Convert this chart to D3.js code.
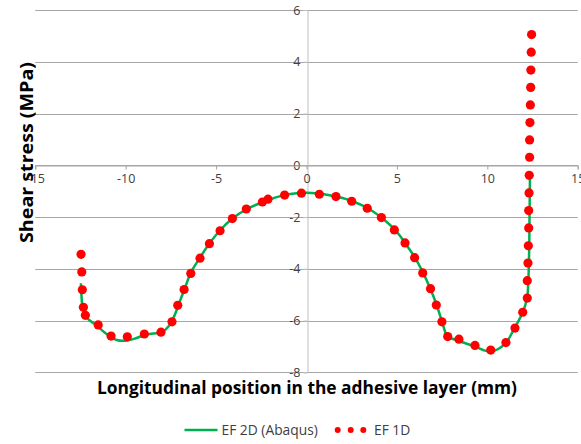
<!DOCTYPE html>
<html>
<head>
<meta charset="utf-8">
<script src="https://cdn.jsdelivr.net/npm/d3@7"></script>
<style>
  body { margin: 0; background: #fff; }
  text { font-family: "Open Sans", "Liberation Sans", sans-serif; }
</style>
</head>
<body>
<div id="chart"></div>
<script>
// EF 2D (Abaqus) - continuous curve
var fe2dX = [-12.48, -12.45, -12.38, -12.2, -11.6, -11.0, -10.5, -10.0, -9.5, -9.0, -8.5, -8.0, -7.6, -7.3, -7.0, -6.7, -6.4, -5.9, -5.4, -4.8, -4.1, -3.3, -2.4, -1.6, -0.8, 0, 0.7, 1.6, 2.5, 3.4, 4.1, 4.9, 5.45, 6.0, 6.45, 6.85, 7.2, 7.5, 7.8, 8.4, 9.3, 10.2, 11.0, 11.5, 11.95, 12.2, 12.27, 12.3, 12.32, 12.33, 12.34, 12.35, 12.36];
var fe2dY = [-4.56, -5.0, -5.5, -5.85, -6.2, -6.55, -6.75, -6.78, -6.7, -6.57, -6.5, -6.45, -6.2, -5.8, -5.25, -4.7, -4.15, -3.58, -3.05, -2.53, -2.06, -1.69, -1.42, -1.22, -1.1, -1.06, -1.1, -1.2, -1.38, -1.66, -2.0, -2.5, -3.0, -3.57, -4.16, -4.77, -5.4, -6.05, -6.6, -6.78, -7.0, -7.2, -6.88, -6.3, -5.7, -5.13, -4.46, -3.8, -3.1, -2.4, -1.75, -1.05, -0.4];

// EF 1D - points
var fe1dX = [-12.47, -12.43, -12.40, -12.34, -12.23, -11.52, -10.81, -9.91, -8.97, -8.05, -7.44, -7.12, -6.77, -6.40, -5.89, -5.37, -4.78, -4.10, -3.33, -2.44, -2.13, -1.21, -0.28, 0.71, 1.63, 2.50, 3.36, 4.14, 4.86, 5.45, 5.98, 6.43, 6.86, 7.18, 7.49, 7.81, 8.43, 9.32, 10.19, 11.03, 11.53, 11.96, 12.21, 12.21, 12.25, 12.27, 12.29, 12.29, 12.31, 12.32, 12.34, 12.34, 12.36, 12.38, 12.40, 12.41, 12.43, 12.45];
var fe1dY = [-3.44, -4.12, -4.81, -5.49, -5.80, -6.17, -6.60, -6.63, -6.52, -6.45, -6.05, -5.41, -4.80, -4.18, -3.59, -3.03, -2.53, -2.06, -1.69, -1.42, -1.31, -1.15, -1.08, -1.12, -1.21, -1.39, -1.66, -2.02, -2.50, -3.00, -3.57, -4.16, -4.77, -5.40, -6.05, -6.62, -6.72, -6.96, -7.14, -6.85, -6.29, -5.68, -5.13, -4.46, -3.78, -3.11, -2.42, -1.75, -1.07, -0.39, 0.31, 0.98, 1.65, 2.33, 3.01, 3.68, 4.37, 5.05];

var xTicks = [-15, -10, -5, 0, 5, 10, 15];
var yTicks = [-8, -6, -4, -2, 0, 2, 4, 6];
var seriesNames = ["EF 2D (Abaqus)", "EF 1D"];

const svgWidth = 581;
const svgHeight = 444;
const margin = { top: 10, right: 3.3, bottom: 71.7, left: 35.3 };

const svg = d3.select("#chart")
  .append("svg")
  .attr("width", svgWidth)
  .attr("height", svgHeight);

const x = d3.scaleLinear()
  .domain([-15, 15])
  .range([margin.left, svgWidth - margin.right]);

const y = d3.scaleLinear()
  .domain([-8, 6])
  .range([svgHeight - margin.bottom, margin.top]);

// horizontal gridlines
svg.append("g")
  .selectAll("line")
  .data(yTicks)
  .enter().append("line")
  .attr("x1", x(-15))
  .attr("x2", x(15))
  .attr("y1", d => Math.round(y(d)) + 0.5)
  .attr("y2", d => Math.round(y(d)) + 0.5)
  .attr("stroke", "#a6a6a6")
  .attr("stroke-width", 1);

// vertical axis at x = 0
const yAxis = svg.append("g")
  .attr("transform", `translate(${Math.round(x(0)) + 0.5}, 0)`)
  .call(d3.axisLeft(y).tickValues(yTicks).tickSize(4).tickPadding(3).tickFormat(d3.format("d")));
yAxis.select(".domain").attr("stroke", "#bfbfbf");
yAxis.selectAll(".tick line").attr("stroke", "#bfbfbf");
yAxis.selectAll(".tick text")
  .attr("fill", "#404040")
  .style("font-size", "12.5px")
  .text(d => d < 0 ? "-" + Math.abs(d) : d);

// horizontal axis at y = 0
const xAxis = svg.append("g")
  .attr("transform", `translate(0, ${Math.round(y(0)) + 0.5})`)
  .call(d3.axisBottom(x).tickValues(xTicks).tickSize(4).tickPadding(5).tickFormat(d3.format("d")));
xAxis.select(".domain").attr("stroke", "#a6a6a6");
xAxis.selectAll(".tick line").attr("stroke", "#a6a6a6");
xAxis.selectAll(".tick text")
  .attr("fill", "#404040")
  .style("font-size", "12.5px")
  .text(d => d < 0 ? "-" + Math.abs(d) : d);

// EF 2D line
const line = d3.line()
  .x((d, i) => x(fe2dX[i]))
  .y((d, i) => y(fe2dY[i]))
  .curve(d3.curveCatmullRom);

svg.append("path")
  .datum(fe2dX)
  .attr("d", line)
  .attr("fill", "none")
  .attr("stroke", "#00b050")
  .attr("stroke-width", 2.5);

// EF 1D dots
svg.append("g")
  .selectAll("circle")
  .data(fe1dX)
  .enter().append("circle")
  .attr("cx", (d, i) => x(fe1dX[i]))
  .attr("cy", (d, i) => y(fe1dY[i]))
  .attr("r", 4.6)
  .attr("fill", "#ff0000");

// axis titles
svg.append("text")
  .attr("x", 307)
  .attr("y", 394)
  .attr("text-anchor", "middle")
  .attr("font-weight", "bold")
  .attr("font-size", "17px")
  .attr("fill", "#000")
  .attr("textLength", 420)
  .attr("lengthAdjust", "spacingAndGlyphs")
  .text("Longitudinal position in the adhesive layer (mm)");

svg.append("text")
  .attr("transform", "translate(33, 152.5) rotate(-90)")
  .attr("text-anchor", "middle")
  .attr("font-weight", "bold")
  .attr("font-size", "17px")
  .attr("fill", "#000")
  .attr("textLength", 181)
  .attr("lengthAdjust", "spacingAndGlyphs")
  .text("Shear stress (MPa)");

// legend
const legend = svg.append("g");
legend.append("line")
  .attr("x1", 184.5).attr("x2", 217.5)
  .attr("y1", 430).attr("y2", 430)
  .attr("stroke", "#00b050")
  .attr("stroke-width", 2.5);
legend.append("text")
  .attr("x", 221.5).attr("y", 434.8)
  .attr("font-size", "13.8px")
  .attr("fill", "#404040")
  .text(seriesNames[0]);
legend.selectAll("circle")
  .data([337.7, 350.7, 363.3])
  .enter().append("circle")
  .attr("cx", d => d)
  .attr("cy", 430)
  .attr("r", 3)
  .attr("fill", "#ff0000");
legend.append("text")
  .attr("x", 374).attr("y", 434.8)
  .attr("font-size", "13.8px")
  .attr("fill", "#404040")
  .text(seriesNames[1]);
</script>
</body>
</html>
